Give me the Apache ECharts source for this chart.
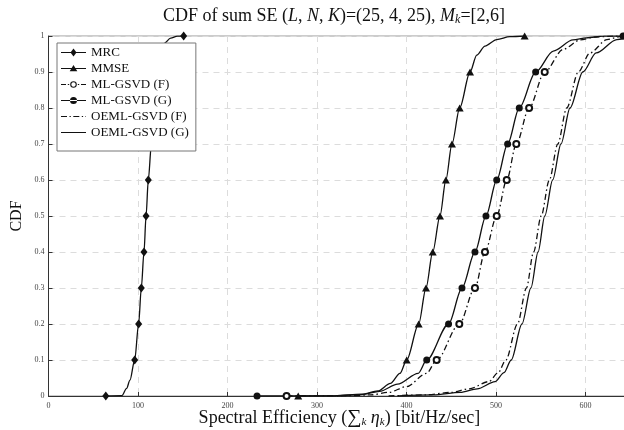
<!DOCTYPE html>
<html><head><meta charset="utf-8">
<script src="https://cdn.jsdelivr.net/npm/echarts@6/dist/echarts.min.js"></script>
<style>html,body{margin:0;padding:0;background:#fff}#c{width:624px;height:430px}</style>
</head><body><div id="c"></div>
<script>
// CDF levels at which markers are drawn
const cdfLevels = [0, 0.1, 0.2, 0.3, 0.4, 0.5, 0.6, 0.7, 0.8, 0.9, 1];
const seriesNames = ['MRC', 'MMSE', 'ML-GSVD (F)', 'ML-GSVD (G)', 'OEML-GSVD (F)', 'OEML-GSVD (G)'];
const xTicks = [0, 100, 200, 300, 400, 500, 600];
const yTicks = [0, 0.1, 0.2, 0.3, 0.4, 0.5, 0.6, 0.7, 0.8, 0.9, 1];

// marker x positions (at cdfLevels) and extra curve points [x, cdf]
const mrcMarkX = [64, 96.3, 100.7, 103.7, 106.7, 109, 111.5, 115, 118.5, 122.5, 151];
const mrcCurve = [[82, 0.001], [87.3, 0.021], [91, 0.044], [125.5, 0.95], [129, 0.979], [136.5, 0.994], [144, 0.9995]];

const mmseMarkX = [279, 400.2, 413.6, 421.8, 429.3, 437.4, 444, 450.8, 459.4, 471, 532];
const mmseCurve = [[320, 0.0005], [350, 0.005], [368, 0.014], [382, 0.035], [392.7, 0.063], [478.5, 0.947], [487.7, 0.972], [500.8, 0.99], [515.6, 0.998]];

const mlfMarkX = [266, 433.7, 459, 476.5, 487.7, 500.8, 512, 522.7, 537, 554.4, 655];
const mlfCurve = [[330, 0.0005], [360, 0.003], [380, 0.01], [400, 0.026], [422.5, 0.063], [575, 0.963], [594, 0.989], [610, 0.997], [630, 0.9995]];

const mlgMarkX = [233, 422.6, 447, 462, 476.5, 488.8, 500.8, 513, 526, 544.3, 642];
const mlgCurve = [[320, 0.0005], [350, 0.004], [370, 0.013], [390, 0.033], [413, 0.063], [564, 0.958], [586, 0.989], [601, 0.995], [620, 0.9995]];

const oemlF = [[380, 0], [420, 0.003], [450, 0.01], [470, 0.02], [492, 0.04], [502.5, 0.065], [511, 0.1], [524, 0.2], [534, 0.3], [542, 0.4], [550.5, 0.5], [559.6, 0.6], [569, 0.7], [579, 0.8], [592, 0.9], [605, 0.953], [624, 0.99], [640, 0.999], [650, 1]];
const oemlG = [[390, 0], [430, 0.003], [460, 0.01], [479, 0.02], [499, 0.04], [509, 0.065], [517, 0.1], [529, 0.2], [539, 0.3], [547, 0.4], [554.5, 0.5], [563.3, 0.6], [572.6, 0.7], [582.7, 0.8], [597, 0.9], [612, 0.953], [635, 0.99], [650, 0.998]];

const FONT = 'Liberation Serif';
const INK = '#111';

function build(markX, curve) {
  const pts = markX.map((x, i) => ({ value: [x, cdfLevels[i]] }))
    .concat(curve.map(p => ({ value: p, symbol: 'none' })));
  pts.sort((a, b) => a.value[0] - b.value[0]);
  return pts;
}

// legend icons (25 x 10 box): line plus marker, drawn as paths
const BOX = 'M0,0h0.01v0.01h-0.01Z M24.99,9.99h0.01v0.01h-0.01Z ';
const SOLID = 'M0,4.4H25V5.6H0Z ';
const ICONS = [
  'path://' + BOX + SOLID + 'M12.5,1L15.5,5L12.5,9L9.5,5Z',
  'path://' + BOX + SOLID + 'M12.5,1.5L16.3,7.8L8.7,7.8Z',
  'path://' + BOX + 'M0,4.4H5V5.6H0Z M6.8,4.4H8.2V5.6H6.8Z M16.8,4.4H18.2V5.6H16.8Z M20,4.4H25V5.6H20Z ' +
    'M9.2,5a3.3,3.3 0 1,0 6.6,0a3.3,3.3 0 1,0 -6.6,0Z M10.3,5a2.2,2.2 0 1,1 4.4,0a2.2,2.2 0 1,1 -4.4,0Z',
  'path://' + BOX + SOLID + 'M9,5a3.5,3.5 0 1,0 7,0a3.5,3.5 0 1,0 -7,0Z',
  'path://' + BOX + 'M0,4.4H6V5.6H0Z M8.5,4.4H9.8V5.6H8.5Z M12.3,4.4H18.3V5.6H12.3Z M20.8,4.4H22.1V5.6H20.8Z M24.5,4.4H25V5.6H24.5Z',
  'path://' + BOX + SOLID
];

const dashDot = [6, 3, 1.5, 3];
function lineSeries(name, data, symbol, symbolSize, dash) {
  return {
    name, type: 'line', data, symbol, symbolSize, showSymbol: symbol !== 'none',
    smooth: 0.3, smoothMonotone: 'x', clip: true,
    lineStyle: { color: INK, width: 1.3, type: dash ? dashDot : 'solid' },
    itemStyle: { color: INK, borderColor: INK, borderWidth: symbol === 'emptyCircle' ? 1.2 : 0 },
    emphasis: { disabled: true }, animation: false
  };
}

const chart = echarts.init(document.getElementById('c'), null, { renderer: 'canvas' });
chart.setOption({
  backgroundColor: '#fff',
  animation: false,
  title: {
    text: 'CDF of sum SE ({i|L}, {i|N}, {i|K})=(25, 4, 25), {i|M}{s|k}=[2,6]',
    left: 334, top: 6, textAlign: 'center', padding: 0,
    textStyle: {
      fontFamily: FONT, fontSize: 18, fontWeight: 'normal', color: INK,
      rich: {
        i: { fontFamily: FONT, fontSize: 18, fontStyle: 'italic', color: INK },
        s: { fontFamily: FONT, fontSize: 12, fontStyle: 'italic', color: INK, padding: [8, 0, 0, 0] }
      }
    }
  },
  legend: {
    data: seriesNames.map((n, i) => ({ name: n, icon: ICONS[i] })),
    orient: 'vertical', left: 57, top: 43,
    itemWidth: 25, itemHeight: 10, itemGap: 3, padding: [3, 7, 12, 4],
    backgroundColor: '#fff', borderColor: '#777', borderWidth: 1, borderRadius: 0,
    itemStyle: { color: INK, borderWidth: 0 },
    textStyle: { fontFamily: FONT, fontSize: 13, color: INK },
    selectedMode: false
  },
  grid: {
    left: 48.5, top: 36, width: 581.75, height: 360,
    show: true, borderColor: '#999', borderWidth: 1,
    containLabel: false, outerBoundsMode: 'none'
  },
  xAxis: {
    type: 'value', min: 0, max: 650, interval: 100,
    axisLine: { show: true, lineStyle: { color: '#333', width: 1 } },
    axisTick: { show: true, inside: true, length: 4, lineStyle: { color: '#333' } },
    axisLabel: { fontFamily: FONT, fontSize: 8, color: '#444', margin: 6, showMaxLabel: false },
    splitLine: { show: true, lineStyle: { type: [6, 5], color: '#dcdcdc', width: 1 } },
    name: 'Spectral Efficiency ({sum|∑}{s|k} {i|η}{s|k}) [bit/Hz/sec]',
    nameLocation: 'middle', nameGap: 12, nameMoveOverlap: false,
    nameTextStyle: {
      fontFamily: FONT, fontSize: 18, color: INK,
      rich: {
        sum: { fontFamily: FONT, fontSize: 20, color: INK },
        i: { fontFamily: FONT, fontSize: 18, fontStyle: 'italic', color: INK },
        s: { fontFamily: FONT, fontSize: 11, fontStyle: 'italic', color: INK, padding: [8, 0, 0, 0] }
      }
    }
  },
  yAxis: {
    type: 'value', min: 0, max: 1, interval: 0.1,
    axisLine: { show: true, lineStyle: { color: '#333', width: 1 } },
    axisTick: { show: true, inside: true, length: 4, lineStyle: { color: '#333' } },
    axisLabel: { fontFamily: FONT, fontSize: 8, color: '#444', margin: 4 },
    splitLine: { show: true, lineStyle: { type: [6, 5], color: '#dcdcdc', width: 1 } },
    name: 'CDF', nameLocation: 'middle', nameGap: 24, nameRotate: 90, nameMoveOverlap: false,
    nameTextStyle: { fontFamily: FONT, fontSize: 16, color: INK }
  },
  series: [
    lineSeries(seriesNames[0], build(mrcMarkX, mrcCurve), 'diamond', [7, 9], false),
    lineSeries(seriesNames[1], build(mmseMarkX, mmseCurve), 'triangle', [8, 7], false),
    lineSeries(seriesNames[2], build(mlfMarkX, mlfCurve), 'emptyCircle', 6, true),
    lineSeries(seriesNames[3], build(mlgMarkX, mlgCurve), 'circle', 7, false),
    lineSeries(seriesNames[4], oemlF, 'none', 0, true),
    lineSeries(seriesNames[5], oemlG, 'none', 0, false)
  ]
});
</script></body></html>
